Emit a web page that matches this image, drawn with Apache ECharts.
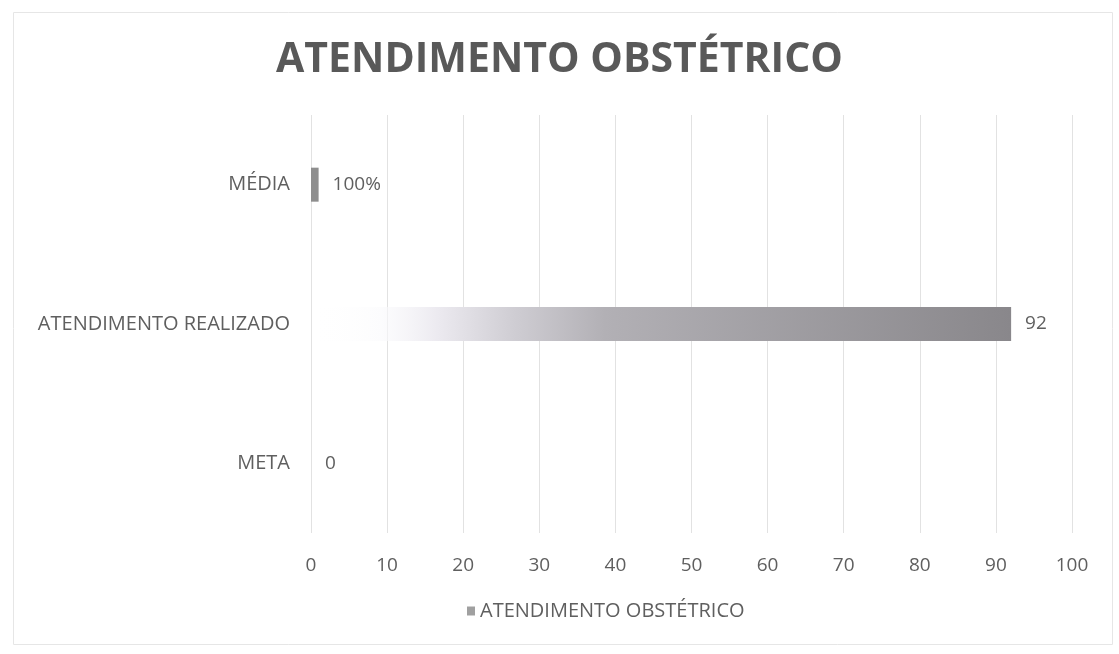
<!DOCTYPE html>
<html>
<head>
<meta charset="utf-8">
<script src="https://cdn.jsdelivr.net/npm/echarts@6/dist/echarts.min.js"></script>
<style>html,body{margin:0;padding:0;background:#fff;}#c{width:1119px;height:654px;}</style>
</head>
<body>
<div id="c"></div>
<script>
var titleText = 'ATENDIMENTO OBSTÉTRICO';
var seriesName = 'ATENDIMENTO OBSTÉTRICO';
var categories = ['META', 'ATENDIMENTO REALIZADO', 'MÉDIA'];
var values = [0, 92, 1];
var valueLabels = ['0', '92', '100%'];
var xTicks = [0, 10, 20, 30, 40, 50, 60, 70, 80, 90, 100];

var txt = '#5f5f5f';
var font = 'Open Sans';
var gradient = new echarts.graphic.LinearGradient(0, 0, 1, 0, [
  {offset: 0, color: 'rgba(255,255,255,0)'},
  {offset: 0.1, color: 'rgba(250,250,252,0.6)'},
  {offset: 0.18, color: '#eceaf0'},
  {offset: 0.29, color: '#cfcdd3'},
  {offset: 0.42, color: '#b2b0b5'},
  {offset: 1, color: '#89878b'}
]);
var styles = [{color: '#8e8e8e'}, {color: gradient}, {color: '#8e8e8e'}];
var data = values.map(function (v, i) {
  return {value: v, itemStyle: styles[i]};
});

var chart = echarts.init(document.getElementById('c'));
chart.setOption({
  backgroundColor: '#ffffff',
  animation: false,
  title: {
    text: titleText,
    left: 'center',
    top: 35,
    textStyle: {fontFamily: font, fontWeight: 'bold', fontSize: 41, color: '#595959'}
  },
  legend: {
    data: [seriesName],
    left: 462,
    top: 596,
    itemWidth: 8,
    itemHeight: 9,
    itemGap: 6,
    icon: 'rect',
    textStyle: {fontFamily: font, fontSize: 20, color: txt},
    itemStyle: {color: '#a0a0a0'}
  },
  grid: {left: 311, right: 47, top: 115, bottom: 121, containLabel: false},
  xAxis: {
    type: 'value',
    min: xTicks[0],
    max: xTicks[xTicks.length - 1],
    interval: xTicks[1] - xTicks[0],
    axisLine: {show: false},
    axisTick: {show: false},
    splitLine: {show: true, lineStyle: {color: '#e2e2e2', width: 1}},
    axisLabel: {fontFamily: font, fontSize: 19, color: txt, margin: 23}
  },
  yAxis: {
    type: 'category',
    data: categories,
    axisLine: {show: false},
    axisTick: {show: false},
    axisLabel: {fontFamily: font, fontSize: 20, color: txt, margin: 21}
  },
  series: [{
    name: seriesName,
    type: 'bar',
    data: data,
    barWidth: 34,
    label: {
      show: true,
      position: 'right',
      distance: 14,
      fontFamily: font,
      fontSize: 19,
      color: txt,
      formatter: function (p) { return valueLabels[p.dataIndex]; }
    }
  }],
  graphic: [{
    type: 'rect',
    shape: {x: 13.5, y: 12.5, width: 1099, height: 632},
    style: {fill: 'none', stroke: '#e6e6e6', lineWidth: 1},
    silent: true
  }]
});
</script>
</body>
</html>
